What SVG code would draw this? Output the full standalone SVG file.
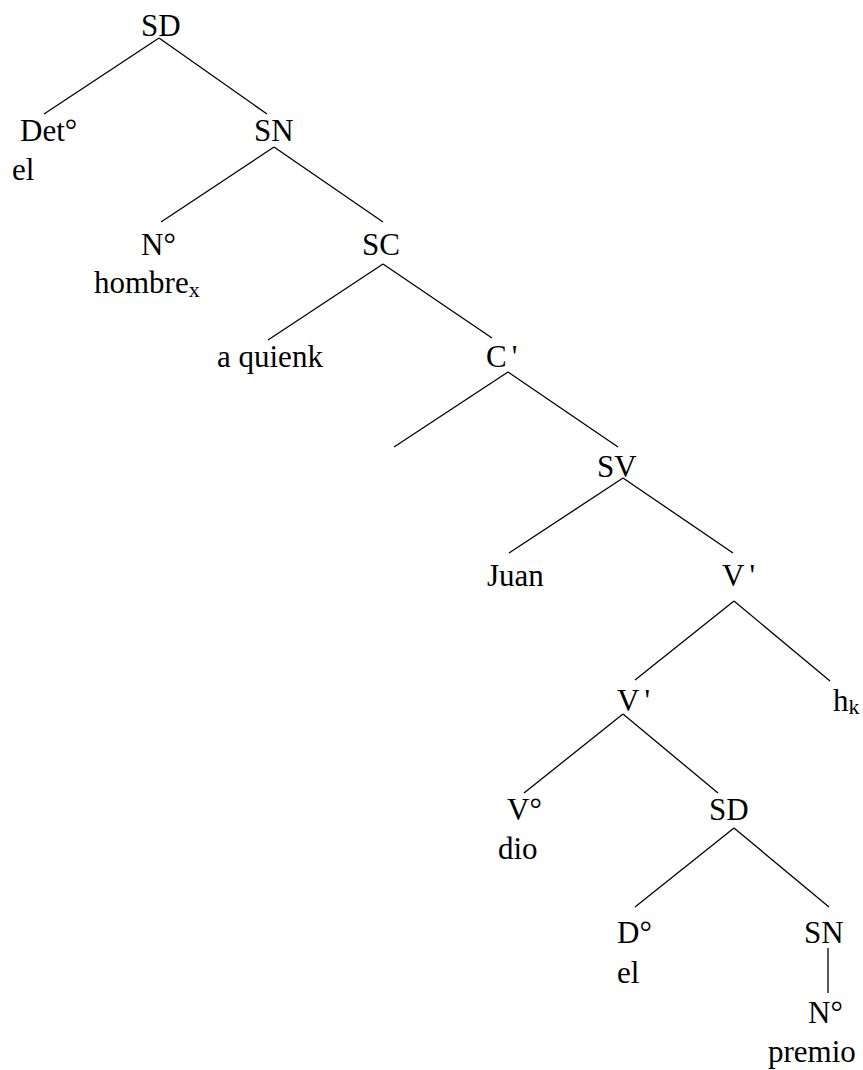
<svg xmlns="http://www.w3.org/2000/svg" width="863" height="1070" viewBox="0 0 863 1070">
<style>
text{font-family:'Liberation Serif','DejaVu Serif',serif;font-size:31px;fill:#000}
.sub{font-size:22px}
#connectors line{stroke:#000;stroke-width:1.3;fill:none}
</style>
<rect width="863" height="1070" fill="#fff"/>
<g id="connectors">
<line x1="159" y1="38" x2="44" y2="114"/>
<line x1="159" y1="38" x2="267" y2="114"/>
<line x1="274" y1="147" x2="161" y2="222"/>
<line x1="274" y1="147" x2="383" y2="222"/>
<line x1="383" y1="264" x2="268" y2="340"/>
<line x1="383" y1="264" x2="492" y2="338"/>
<line x1="508" y1="372" x2="394" y2="447"/>
<line x1="508" y1="372" x2="618" y2="447"/>
<line x1="623" y1="478" x2="509" y2="553"/>
<line x1="623" y1="478" x2="733" y2="553"/>
<line x1="734" y1="601" x2="635" y2="680"/>
<line x1="734" y1="601" x2="830" y2="681"/>
<line x1="623" y1="714" x2="524" y2="793"/>
<line x1="623" y1="714" x2="718" y2="793"/>
<line x1="734" y1="828" x2="635" y2="907"/>
<line x1="734" y1="828" x2="829" y2="907"/>
<line x1="828" y1="948" x2="828" y2="993"/>
</g>
<g id="n-sd"><text x="141" y="36" font-family="Liberation Serif">SD</text></g>
<g id="n-det"><text x="20" y="141">Det°</text><text x="12" y="180">el</text></g>
<g id="n-sn"><text x="254" y="141">SN</text></g>
<g id="n-n"><text x="141" y="255">N°</text><text x="94" y="293">hombre<tspan class="sub" dy="4">x</tspan></text></g>
<g id="n-sc"><text x="362" y="255">SC</text></g>
<g id="n-aquien"><text x="217" y="367">a quienk</text></g>
<g id="n-cbar"><text x="486" y="367">C<tspan dx="5">'</tspan></text></g>
<g id="n-sv"><text x="597" y="477">SV</text></g>
<g id="n-juan"><text x="487" y="586">Juan</text></g>
<g id="n-vbar1"><text x="722" y="586">V<tspan dx="5">'</tspan></text></g>
<g id="n-vbar2"><text x="617" y="711">V<tspan dx="5">'</tspan></text></g>
<g id="n-hk"><text x="833" y="711">h<tspan class="sub" dy="3">k</tspan></text></g>
<g id="n-v"><text x="507" y="820">V°</text><text x="498" y="859">dio</text></g>
<g id="n-sd2"><text x="709" y="820">SD</text></g>
<g id="n-d"><text x="617" y="943">D°</text><text x="617" y="983">el</text></g>
<g id="n-sn2"><text x="804" y="943">SN</text></g>
<g id="n-n2"><text x="808" y="1023">N°</text><text x="768" y="1062">premio</text></g>
</svg>
